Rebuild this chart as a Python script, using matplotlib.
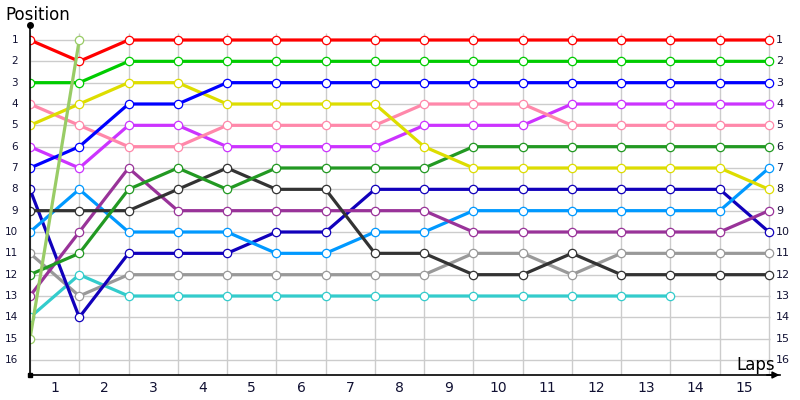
import numpy as np
import matplotlib
matplotlib.use("Agg")
import matplotlib.pyplot as plt
from matplotlib.transforms import blended_transform_factory

laps = list(range(16))
positions = list(range(1, 17))
lap_labels = [str(i) for i in range(1, 16)]

red = [1, 2, 1, 1, 1, 1, 1, 1, 1, 1, 1, 1, 1, 1, 1, 1]
green = [3, 3, 2, 2, 2, 2, 2, 2, 2, 2, 2, 2, 2, 2, 2, 2]
blue = [7, 6, 4, 4, 3, 3, 3, 3, 3, 3, 3, 3, 3, 3, 3, 3]
yellow = [5, 4, 3, 3, 4, 4, 4, 4, 6, 7, 7, 7, 7, 7, 7, 8]
pink = [4, 5, 6, 6, 5, 5, 5, 5, 4, 4, 4, 5, 5, 5, 5, 5]
violet = [6, 7, 5, 5, 6, 6, 6, 6, 5, 5, 5, 4, 4, 4, 4, 4]
dark_green = [12, 11, 8, 7, 8, 7, 7, 7, 7, 6, 6, 6, 6, 6, 6, 6]
dark_gray = [9, 9, 9, 8, 7, 8, 8, 11, 11, 12, 12, 11, 12, 12, 12, 12]
purple = [13, 10, 7, 9, 9, 9, 9, 9, 9, 10, 10, 10, 10, 10, 10, 9]
light_blue = [10, 8, 10, 10, 10, 11, 11, 10, 10, 9, 9, 9, 9, 9, 9, 7]
navy = [8, 14, 11, 11, 11, 10, 10, 8, 8, 8, 8, 8, 8, 8, 8, 10]
gray = [11, 13, 12, 12, 12, 12, 12, 12, 12, 11, 11, 12, 11, 11, 11, 11]
teal = [14, 12, 13, 13, 13, 13, 13, 13, 13, 13, 13, 13, 13, 13]
olive = [15, 1]

series = [
    (teal, "#33cccc"),
    (gray, "#999999"),
    (navy, "#1100bb"),
    (light_blue, "#0099ff"),
    (purple, "#993399"),
    (dark_gray, "#333333"),
    (dark_green, "#229922"),
    (violet, "#cc33ff"),
    (pink, "#ff88aa"),
    (yellow, "#dddd00"),
    (blue, "#0000ff"),
    (green, "#00cc00"),
    (red, "#ff0000"),
    (olive, "#99cc66"),
]

fig = plt.figure(figsize=(8, 4), dpi=100)
ax = fig.add_axes([30 / 800, 25 / 400, 750 / 800, 350 / 400])
ax.set_xlim(0, 15.223)
ax.set_ylim(16.703, 0.297)

# grid
ax.vlines(laps, 0.65, 16.703, color="#cccccc", lw=1, zorder=0)
ax.hlines(positions, 0, 15.02, color="#cccccc", lw=1, zorder=0)

for vals, col in series:
    ax.plot(laps[:len(vals)], vals, color=col, lw=2.3, zorder=2,
            marker="o", ms=6, mfc="white", mec=col, mew=0.9,
            solid_joinstyle="round")

for s in ["top", "right"]:
    ax.spines[s].set_visible(False)
ax.spines["left"].set_color("black")
ax.spines["bottom"].set_color("black")
ax.spines["left"].set_linewidth(1.2)
ax.spines["bottom"].set_linewidth(1.2)
ax.set_xticks([])
ax.set_yticks([])

# axis end decorations
ax.plot([0], [0.297], marker="o", ms=4, color="black", clip_on=False, zorder=5)
ax.plot([0], [16.703], marker="s", ms=3, color="black", clip_on=False, zorder=5)
ax.annotate("", xy=(15.27, 16.703), xytext=(14.9, 16.703),
            arrowprops=dict(arrowstyle="-|>", color="black", lw=1.2,
                            mutation_scale=10),
            annotation_clip=False)

# tick labels
tl = blended_transform_factory(fig.transFigure, ax.transData)
for p in positions:
    ax.text(18 / 800, p, str(p), transform=tl, ha="right", va="center",
            fontsize=7.5, color="#111133")
    ax.text(776 / 800, p, str(p), transform=tl, ha="left", va="center",
            fontsize=8, color="#111133")
for i, lab in enumerate(lap_labels):
    ax.text(i + 0.5, 17.3, lab, ha="center", va="center", fontsize=10,
            color="#111133", clip_on=False)

fig.text(5 / 800, 1 - 15 / 400, "Position", ha="left", va="center", fontsize=12)
fig.text(775 / 800, 1 - 365 / 400, "Laps", ha="right", va="center", fontsize=12)

fig.savefig("out.png", dpi=100)
